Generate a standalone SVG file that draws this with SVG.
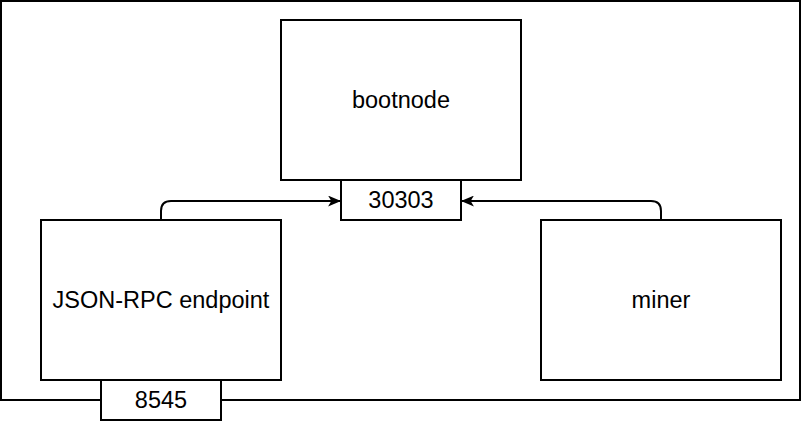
<svg xmlns="http://www.w3.org/2000/svg" width="802" height="422" viewBox="0 0 802 422">
<style>
.b{fill:#fff;stroke:#000;stroke-width:2}
.t{font-family:"Liberation Sans",Arial,sans-serif;font-size:23.5px;fill:#000;text-anchor:middle;dominant-baseline:central}
.c{fill:none;stroke:#000;stroke-width:2}
</style>
<defs>
<marker id="ah" viewBox="0 0 12 10" refX="11" refY="5" markerWidth="13" markerHeight="11" markerUnits="userSpaceOnUse" orient="auto">
<path d="M0,0 L12,5 L0,10 L3,5 Z" fill="#000"/>
</marker>
</defs>
<rect width="802" height="422" fill="#fff"/>
<g id="outer"><rect class="b" x="1" y="1" width="799" height="399"/></g>
<g id="bootnode"><rect class="b" x="281" y="20" width="240" height="160"/><text class="t" x="401" y="100">bootnode</text></g>
<g id="jsonrpc"><rect class="b" x="41" y="220" width="240" height="160"/><text class="t" x="161" y="300">JSON-RPC endpoint</text></g>
<g id="miner"><rect class="b" x="541" y="220" width="240" height="160"/><text class="t" x="661" y="300">miner</text></g>
<g id="port30303"><rect class="b" x="341" y="180" width="120" height="40"/><text class="t" x="401" y="200">30303</text></g>
<g id="port8545"><rect class="b" x="101" y="380" width="120" height="40"/><text class="t" x="161" y="400">8545</text></g>
<g id="connectors">
<path class="c" d="M161,220 V211 Q161,201 171,201 H340" marker-end="url(#ah)"/>
<path class="c" d="M661,220 V211 Q661,201 651,201 H462" marker-end="url(#ah)"/>
</g>
</svg>
